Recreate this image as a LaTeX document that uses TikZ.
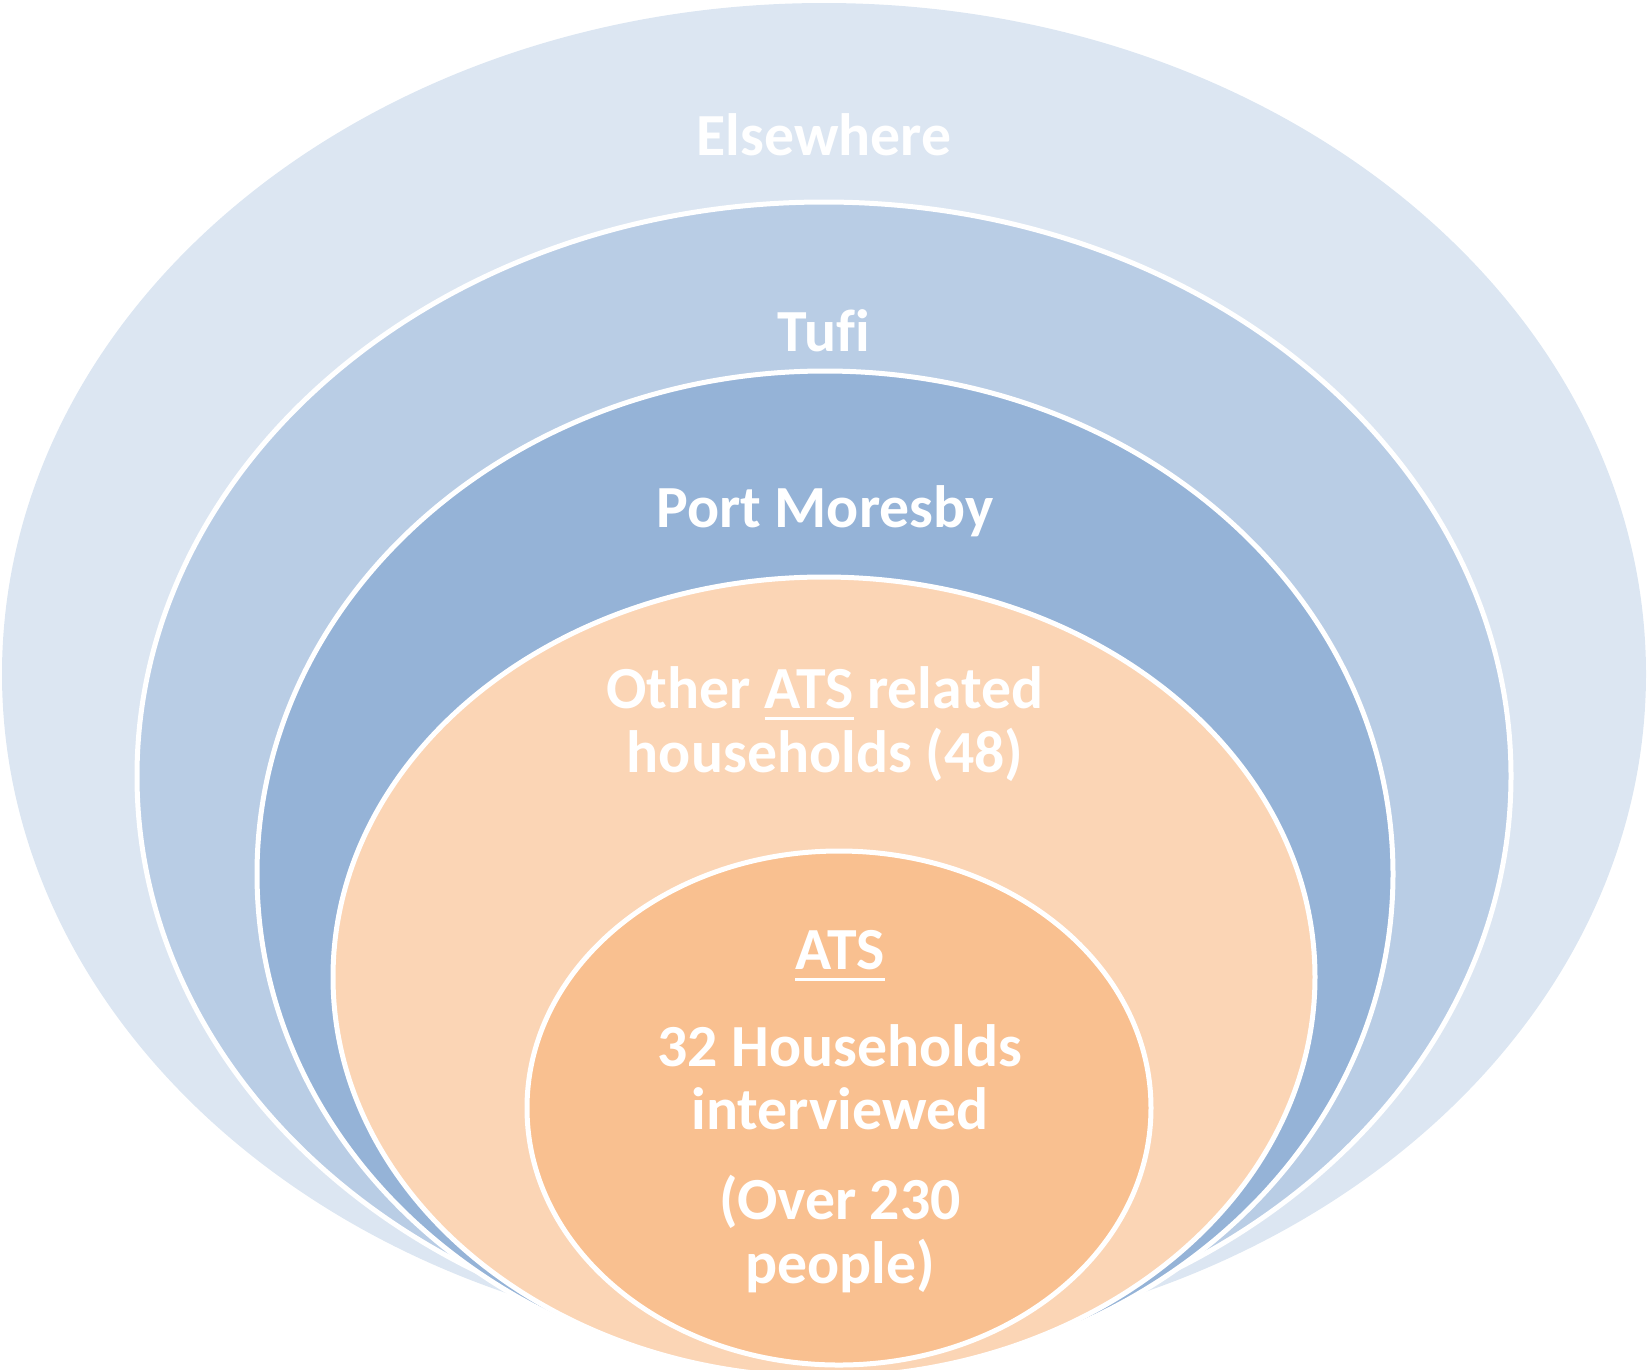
\documentclass[tikz,border=0pt]{standalone}
\usepackage{fontspec}
\setmainfont{Carlito}[Ligatures=NoCommon]
\definecolor{elsewhereblue}{HTML}{DCE6F2}
\definecolor{tufiblue}{HTML}{B9CDE5}
\definecolor{portblue}{HTML}{95B3D7}
\definecolor{otherpeach}{HTML}{FBD5B5}
\definecolor{atspeach}{HTML}{F9C090}
\newcommand{\ulword}[1]{\setbox0\hbox{#1}\rlap{\rule[-3.4pt]{\wd0}{0.9pt}}\box0\relax}

\begin{document}
\begin{tikzpicture}[x=0.1mm, y=-0.1mm,
		ring/.style={draw=white, line width=0.5mm},
		lbl/.style={text=white, inner sep=0pt, anchor=base, font=\fontsize{17}{20}\selectfont\bfseries}]
		%%%%% START %%%%%
		
		\useasboundingbox (0, 0) rectangle (1652, 1369);
		\clip (0, 0) rectangle (1652, 1369);
		
		\fill[elsewhereblue] (824, 674) ellipse [x radius=822, y radius=671];
		\draw[ring, fill=tufiblue] (824, 776) ellipse [x radius=687, y radius=574];
		\draw[ring, fill=portblue] (825, 874) ellipse [x radius=568, y radius=503];
		\draw[ring, fill=otherpeach] (824, 977) ellipse [x radius=491, y radius=400];
		\draw[ring, fill=atspeach] (839, 1108) ellipse [x radius=312, y radius=257];
		
		\node[lbl] (elsewhere) at (824, 155) {Elsewhere};
		\node[lbl] (tufi) at (824, 351) {Tufi};
		\node[lbl] (port) at (825, 527) {Port Moresby};
		
		\node[lbl] (otherA) at (825, 708) {Other \ulword{ATS} related};
		\node[lbl] (otherB) at (825, 772) {households (48)};
		
		\node[lbl] (ats) at (840, 969) {\ulword{ATS}};
		\node[lbl] (hhA) at (840, 1066) {32 Households};
		\node[lbl] (hhB) at (840, 1129) {interviewed};
		\node[lbl] (ppA) at (840, 1219) {(Over 230};
		\node[lbl] (ppB) at (840, 1283) {people)};
		
		%%%%% END %%%%%
	\end{tikzpicture}
\end{document}
